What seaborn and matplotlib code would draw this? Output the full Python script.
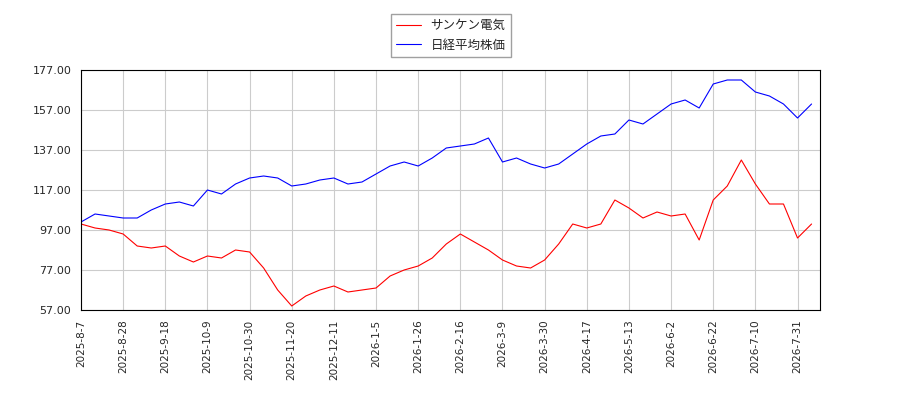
import numpy as np
import pandas as pd
import seaborn as sns
from matplotlib import pyplot as plt

sanken = [100, 98, 97, 95, 89, 88, 89, 84, 81, 84, 83, 87, 86, 78, 67, 59, 64, 67, 69, 66,
          67, 68, 74, 77, 79, 83, 90, 95, 91, 87, 82, 79, 78, 82, 90, 100, 98, 100, 112, 108,
          103, 106, 104, 105, 92, 112, 119, 132, 120, 110, 110, 93, 100]
nikkei = [101, 105, 104, 103, 103, 107, 110, 111, 109, 117, 115, 120, 123, 124, 123, 119, 120, 122, 123, 120,
          121, 125, 129, 131, 129, 133, 138, 139, 140, 143, 131, 133, 130, 128, 130, 135, 140, 144, 145, 152,
          150, 155, 160, 162, 158, 170, 172, 172, 166, 164, 160, 153, 160]
tick_labels = ["2025-8-7", "2025-8-28", "2025-9-18", "2025-10-9", "2025-10-30", "2025-11-20",
               "2025-12-11", "2026-1-5", "2026-1-26", "2026-2-16", "2026-3-9", "2026-3-30",
               "2026-4-17", "2026-5-13", "2026-6-2", "2026-6-22", "2026-7-10", "2026-7-31"]

sns.set_style("white")
plt.rcParams['font.family'] = ['DejaVu Sans', 'Noto Sans CJK JP']

df = pd.DataFrame({"idx": np.arange(len(sanken)) * 5, "サンケン電気": sanken, "日経平均株価": nikkei})
long = df.melt("idx", var_name="name", value_name="v")

fig = plt.figure(figsize=(9, 4), dpi=100)
ax = fig.add_axes([81 / 900, 90 / 400, 739 / 900, 240 / 400])
sns.lineplot(data=long, x="idx", y="v", hue="name", palette=["red", "blue"], linewidth=0.8, ax=ax)
ax.set_xlim(0, 263)
ax.set_ylim(57, 177)
ax.set_yticks(np.arange(57, 178, 20))
ax.set_yticklabels([f"{v:.2f}" for v in np.arange(57, 178, 20)], fontsize=8)
ax.set_xticks(np.arange(len(tick_labels)) * 15)
ax.set_xticklabels(tick_labels, rotation=90, fontsize=7.5)
ax.grid(True, color="#cccccc", linewidth=0.8)
ax.set_xlabel("")
ax.set_ylabel("")
for s in ax.spines.values():
    s.set_color("black")
ax.legend(loc="lower center", bbox_to_anchor=(0.5, 1.03), fontsize=9, frameon=True,
          fancybox=False, edgecolor="#888888", title=None)
fig.savefig("out.png")
